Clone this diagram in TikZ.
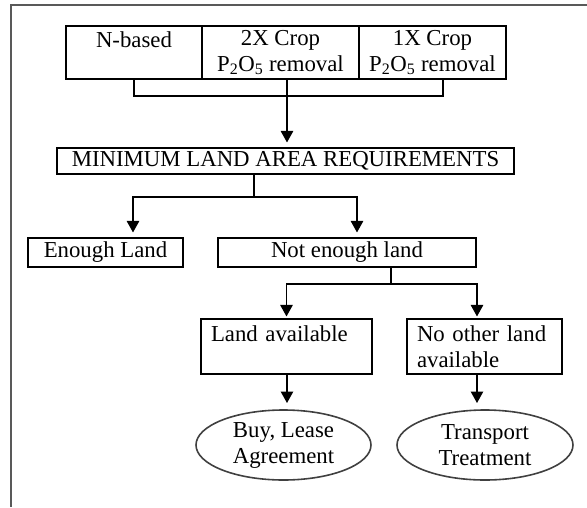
\documentclass[tikz,border=0pt]{standalone}
\usepackage{fontspec}
\setmainfont{Liberation Serif}
\usetikzlibrary{arrows.meta}
\usetikzlibrary{shapes.geometric}

\begin{document}
\begin{tikzpicture}[x=1pt,y=-1pt,font=\fontsize{22.8pt}{26pt}\selectfont,
  box/.style={draw,line width=1.1pt,inner sep=0pt,align=center},
  oval/.style={ellipse,draw=black!75,line width=1.6pt,inner sep=0pt,minimum width=175pt,minimum height=70pt,align=center},
  arr/.style={-{Triangle[length=11.5pt,width=12.5pt]},line width=1.1pt}]
\useasboundingbox (0,0) rectangle (587,507);
\draw [line width=2pt,black!65] (587,5) -| (11,507);
% top row
\node (nbased) [box,minimum width=136pt,minimum height=53pt] at (134,52.5) {N-based\\\mbox{}};
\node (crop2x) [box,minimum width=157pt,minimum height=53pt] at (280.5,52.5) {2X Crop\\P\textsubscript{2}O\textsubscript{5} removal};
\node (crop1x) [box,minimum width=147pt,minimum height=53pt] at (432.5,52.5) {1X Crop\\P\textsubscript{2}O\textsubscript{5} removal};
\node (minreq) [box,minimum width=457pt,minimum height=26pt] at (285.5,161) {MINIMUM LAND AREA REQUIREMENTS};
\node (enough) [box,minimum width=155pt,minimum height=29pt] at (105.5,252.5) {Enough Land};
\node (notenough) [box,minimum width=258pt,minimum height=29pt] at (347,252.5) {Not enough land};
\node (landavail) [box,align=left,inner xsep=10pt,text width=151pt,minimum height=55pt] at (286.5,346.5) {Land available\\\mbox{}};
\node (noother) [box,align=left,inner xsep=10pt,text width=135pt,minimum height=55pt] at (484.5,346.5) {No other land\\available};
\node (buylease) [oval] at (283.5,445) {Buy, Lease\\Agreement};
\node (transport) [oval,minimum width=176pt] at (485,445) {Transport\\Treatment};
% joins
\coordinate (join1) at (287,96);
\coordinate (split1) at (254,197);
\coordinate (split2) at (391,284);
\coordinate (tip1) at (287,403);
\coordinate (tip2) at (477,403);
\draw [line width=1.1pt] (nbased.south) |- (join1) -| ([xshift=10.5pt]crop1x.south);
\draw [arr,shorten >=5pt] (join1 |- crop2x.south) -- (join1 |- minreq.north);
\draw [line width=1.1pt] (split1 |- minreq.south) -- (split1);
\draw [arr,shorten >=5pt] (split1) -| ([xshift=27.5pt]enough.north);
\draw [arr,shorten >=5pt] (split1) -| ([xshift=10pt]notenough.north);
\draw [line width=1.1pt] (split2 |- notenough.south) -- (split2);
\draw [arr,shorten >=2pt] (split2) -| (landavail.north);
\draw [arr,shorten >=2pt] (split2) -| ([xshift=-7.5pt]noother.north);
\draw [arr] (tip1 |- landavail.south) -- (tip1);
\draw [arr] (tip2 |- noother.south) -- (tip2);
\end{tikzpicture}
\end{document}
